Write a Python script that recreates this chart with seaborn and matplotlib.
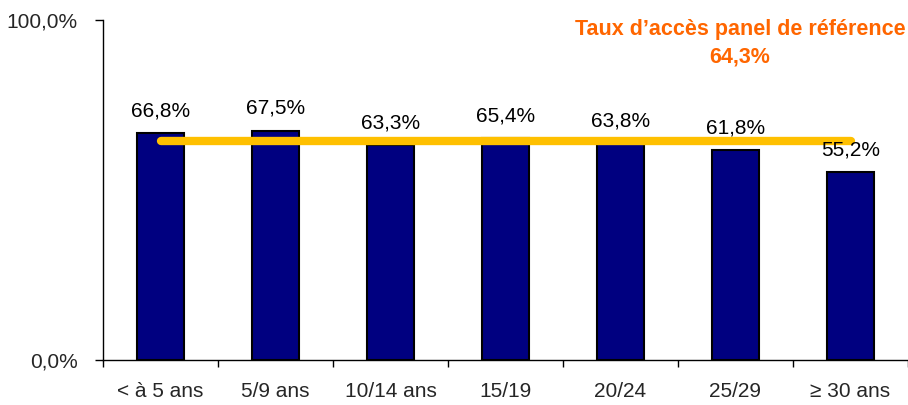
import matplotlib
matplotlib.use("Agg")
import matplotlib.pyplot as plt
import seaborn as sns
import pandas as pd
from matplotlib.ticker import FixedLocator

categories = ["< à 5 ans", "5/9 ans", "10/14 ans", "15/19", "20/24", "25/29", "≥ 30 ans"]
values = [66.8, 67.5, 63.3, 65.4, 63.8, 61.8, 55.2]
reference = 64.3
ref_title = "Taux d’accès panel de référence"

sns.set_theme(style="white")
plt.rcParams['font.family'] = ['Liberation Sans', 'DejaVu Sans']

df = pd.DataFrame({"cat": categories, "val": values})
df_ref = pd.DataFrame({"cat": categories, "val": [reference] * len(categories)})

fig = plt.figure(figsize=(9.08, 4.05), dpi=100)
ax = fig.add_axes([103 / 908, 45 / 405, 805 / 908, 340 / 405])

sns.barplot(data=df, x="cat", y="val", color="#000080", width=0.41,
            edgecolor="black", linewidth=1.5, saturation=1, ax=ax, zorder=2)
sns.lineplot(data=df_ref, x="cat", y="val", color="#FFC000", linewidth=6,
             solid_capstyle="round", ax=ax, zorder=3)

for i, v in enumerate(values):
    ax.annotate(f"{v:.1f}%".replace(".", ","), (i, v), xytext=(0, 9),
                textcoords="offset points", ha="center", va="bottom",
                fontsize=15, color="black")

ax.set_xlim(-0.5, len(categories) - 0.5)
ax.set_ylim(0, 100)
ax.set_yticks([0, 100])
ax.set_yticklabels(["0,0%", "100,0%"], fontsize=15)
ax.set_xticks(range(len(categories)))
ax.set_xticklabels(categories, fontsize=15)
ax.xaxis.set_minor_locator(FixedLocator([i - 0.5 for i in range(len(categories) + 1)]))
ax.tick_params(axis="x", which="major", length=0, pad=16)
ax.tick_params(axis="x", which="minor", length=5, width=1, color="black", direction="out", bottom=True)
ax.tick_params(axis="y", length=6, width=1, color="black", direction="out", left=True, pad=12)
ax.set_xlabel("")
ax.set_ylabel("")

for s in ["top", "right"]:
    ax.spines[s].set_visible(False)
for s in ["left", "bottom"]:
    ax.spines[s].set_color("black")
    ax.spines[s].set_linewidth(1)

fig.text(740 / 908, 1 - 30 / 405, ref_title, ha="center", va="center",
         fontsize=15.5, fontweight="bold", color="#FF6600")
fig.text(740 / 908, 1 - 57 / 405, f"{reference:.1f}%".replace(".", ","), ha="center",
         va="center", fontsize=15.5, fontweight="bold", color="#FF6600")

fig.savefig("out.png", dpi=100)
